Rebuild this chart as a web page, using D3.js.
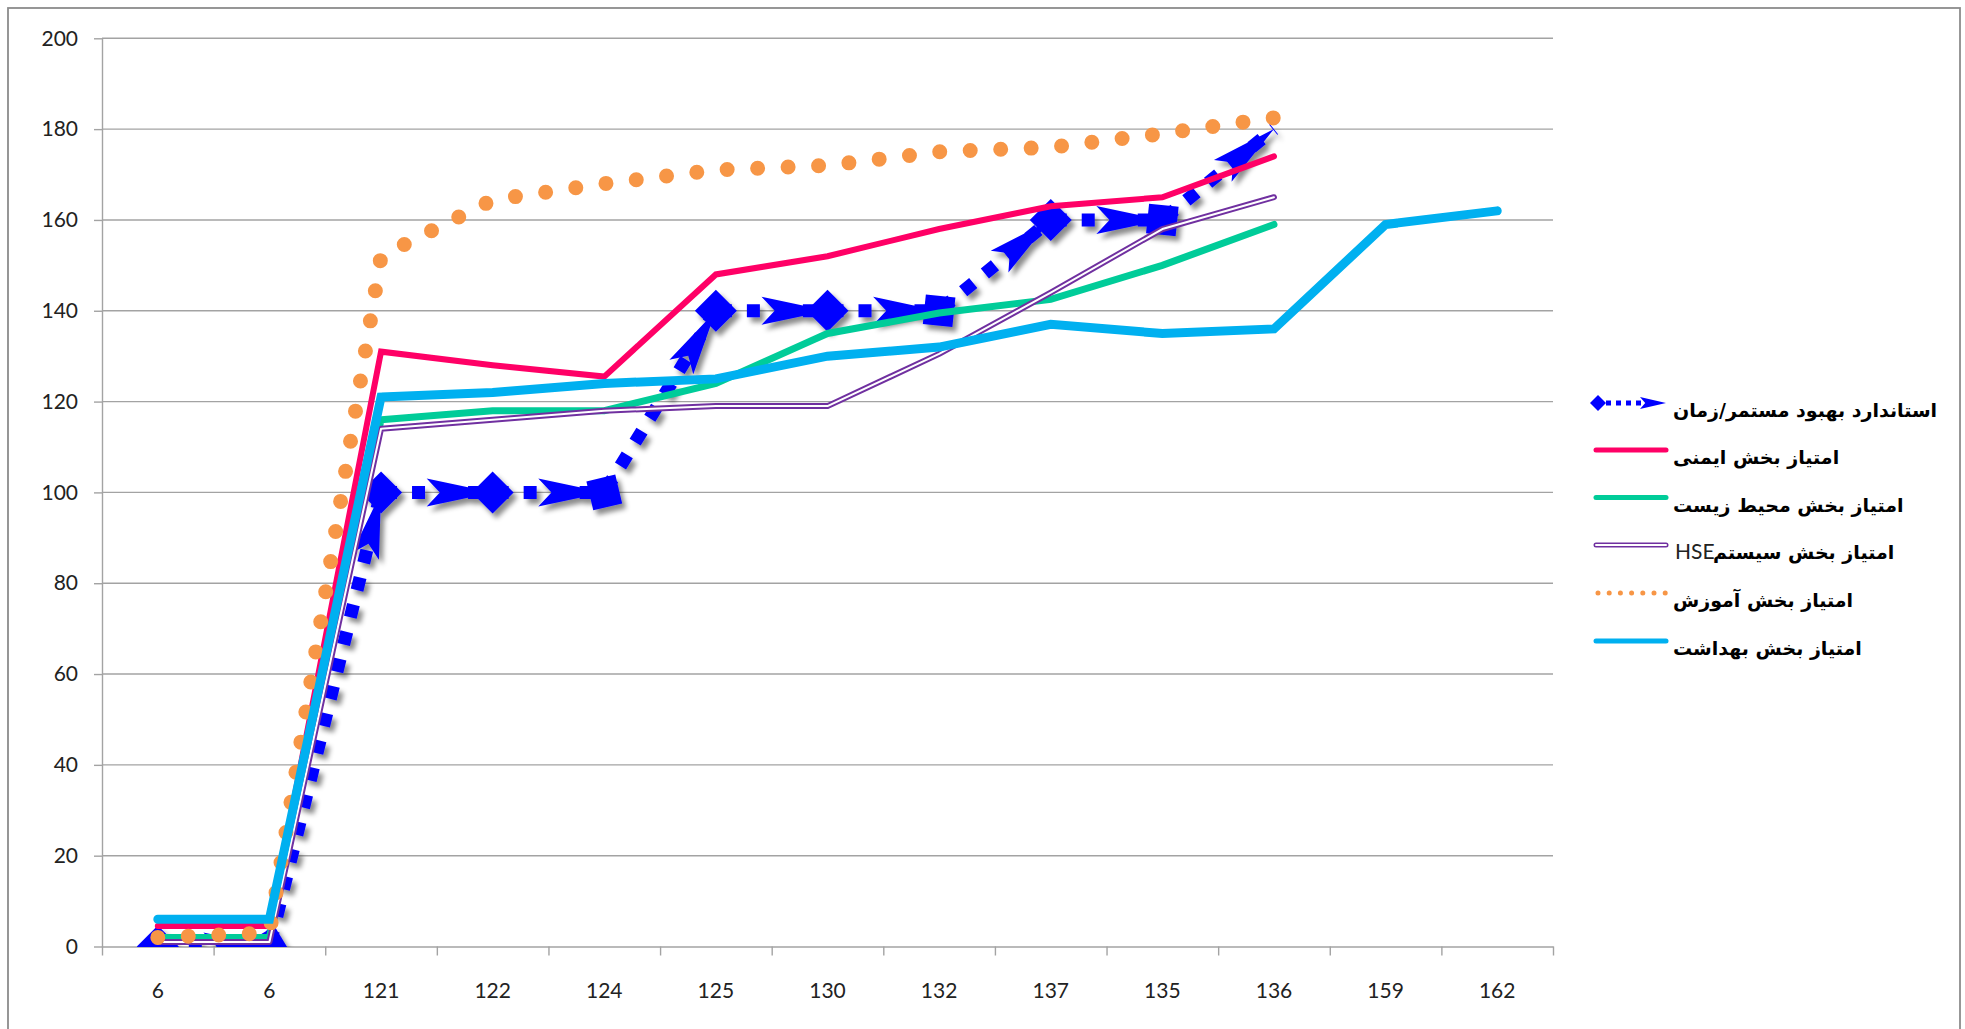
<!DOCTYPE html>
<html>
<head>
<meta charset="utf-8">
<script src="https://cdn.jsdelivr.net/npm/d3@7"></script>
<style>
  html, body { margin: 0; padding: 0; background: #fff; overflow: hidden; }
</style>
</head>
<body>
<svg id="chart" width="1965" height="1029"></svg>
<script>
// Category labels along the bottom axis
const categories = ["6", "6", "121", "122", "124", "125", "130", "132", "137", "135", "136", "159", "162"];
// Value axis ticks
const yTicks = [0, 20, 40, 60, 80, 100, 120, 140, 160, 180, 200];

// Series names (legend)
const nameStandard = "استاندارد بهبود مستمر/زمان";
const nameSafety = "امتیاز بخش ایمنی";
const nameEnvironment = "امتیاز بخش محیط زیست";
const nameSystem = "امتیاز بخش سیستم";
const nameSystemSuffix = "HSE";
const nameTraining = "امتیاز بخش آموزش";
const nameHealth = "امتیاز بخش بهداشت";

// Series values
const standardValues = [0, 0, 100, 100, 100, 140, 140, 140, 160, 160, 180];
const safetyValues = [4.5, 4.5, 131, 128, 125.5, 148, 152, 158, 163, 165, 174];
const environmentValues = [2, 2, 116, 118, 118, 124, 135, 139.5, 142.5, 150, 159];
const systemValues = [1, 1, 114, 116, 118, 119, 119, 130.5, 144, 158, 165];
const trainingValues = [2, 3, 152, 164.4, 168, 171, 172, 175, 176, 179, 182.5];
const healthValues = [6, 6, 121, 122, 124, 125, 130, 132, 137, 135, 136, 159, 162];

const svg = d3.select("#chart");
const plot = { left: 102, right: 1553, top: 38.3, bottom: 946.5 };
const tickFont = "Lato, 'Open Sans', sans-serif";
const gridColor = "#a3a3a3";

const x = d3.scaleBand().domain(d3.range(categories.length)).range([plot.left, plot.right]).padding(0);
const cx = i => x(i) + x.bandwidth() / 2;
const xEdges = d3.scaleLinear().domain([0, categories.length]).range([plot.left, plot.right]);
const y = d3.scaleLinear().domain([0, 200]).range([plot.bottom, plot.top]);

// Outer chart border
svg.append("rect")
  .attr("x", 8).attr("y", 8).attr("width", 1952).attr("height", 1040)
  .attr("fill", "none").attr("stroke", "#8c8c8c").attr("stroke-width", 1.8);

const defs = svg.append("defs");
defs.append("clipPath").attr("id", "plotClip")
  .append("rect")
  .attr("x", plot.left).attr("y", plot.top)
  .attr("width", plot.right - plot.left).attr("height", plot.bottom - plot.top);
defs.append("filter").attr("id", "shadow")
  .attr("x", "-20%").attr("y", "-20%").attr("width", "140%").attr("height", "140%")
  .append("feDropShadow")
  .attr("dx", 4).attr("dy", 5).attr("stdDeviation", 2.6)
  .attr("flood-color", "#000").attr("flood-opacity", 0.45);

// Horizontal gridlines
svg.append("g").selectAll("line").data(yTicks.filter(t => t > 0)).join("line")
  .attr("x1", plot.left).attr("x2", plot.right)
  .attr("y1", d => y(d)).attr("y2", d => y(d))
  .attr("stroke", gridColor).attr("stroke-width", 1.4);

// Value axis
const yAxis = svg.append("g")
  .attr("transform", `translate(${plot.left},0)`)
  .call(d3.axisLeft(y).tickValues(yTicks).tickSize(8).tickSizeOuter(0).tickPadding(16));
yAxis.selectAll("path, line").attr("stroke", gridColor).attr("stroke-width", 1.4);
yAxis.selectAll("text").attr("font-family", tickFont).attr("font-size", 21).attr("fill", "#222");

// Category axis: tick marks on band edges, labels at band centres
const xTicks = svg.append("g")
  .attr("transform", `translate(0,${plot.bottom})`)
  .call(d3.axisBottom(xEdges).tickValues(d3.range(categories.length + 1)).tickSize(9).tickSizeOuter(0).tickFormat(""));
xTicks.selectAll("path, line").attr("stroke", gridColor).attr("stroke-width", 1.4);
const xLabels = svg.append("g")
  .attr("transform", `translate(0,${plot.bottom})`)
  .call(d3.axisBottom(x).tickFormat(i => categories[i]).tickSize(0).tickPadding(36.6));
xLabels.select(".domain").remove();
xLabels.selectAll("text").attr("font-family", tickFont).attr("font-size", 21).attr("fill", "#222");

const series = svg.append("g").attr("clip-path", "url(#plotClip)");
const lineGen = d3.line().x((d, i) => cx(i)).y(d => y(d));

// Stealth arrowhead (tip at origin, pointing along +x) and diamond arrow shapes
function stealth(len, half) {
  return `M0,0 L${-len},${-half} L${-len * 0.8},0 L${-len},${half} Z`;
}
function diamond(r) {
  return `M${r},0 L0,${r} L${-r},0 L0,${-r} Z`;
}

// Improvement standard: square-dot line, each segment starts with a diamond and ends with a stealth arrow
const stdGroup = series.append("g").attr("filter", "url(#shadow)");
const stdPts = standardValues.map((v, i) => [cx(i), y(v)]);
d3.pairs(stdPts).forEach(([a, b]) => {
  stdGroup.append("path")
    .attr("d", d3.line()([a, b]))
    .attr("fill", "none").attr("stroke", "#0000ff").attr("stroke-width", 13)
    .attr("stroke-dasharray", "13 15").attr("stroke-dashoffset", -3);
});
d3.pairs(stdPts).forEach(([a, b]) => {
  const ang = Math.atan2(b[1] - a[1], b[0] - a[0]) * 180 / Math.PI;
  stdGroup.append("path")
    .attr("d", diamond(21))
    .attr("transform", `translate(${a[0]},${a[1]}) rotate(${ang})`)
    .attr("fill", "#0000ff");
  stdGroup.append("path")
    .attr("d", stealth(66, 14))
    .attr("transform", `translate(${b[0]},${b[1]}) rotate(${ang})`)
    .attr("fill", "#0000ff");
});

// Safety
series.append("path").attr("d", lineGen(safetyValues))
  .attr("fill", "none").attr("stroke", "#ff0066").attr("stroke-width", 6)
  .attr("stroke-linecap", "round").attr("stroke-linejoin", "miter");

// Environment
series.append("path").attr("d", lineGen(environmentValues))
  .attr("fill", "none").attr("stroke", "#00cc99").attr("stroke-width", 7)
  .attr("stroke-linecap", "round").attr("stroke-linejoin", "miter");

// HSE system: double line
series.append("path").attr("d", lineGen(systemValues))
  .attr("fill", "none").attr("stroke", "#7030a0").attr("stroke-width", 6)
  .attr("stroke-linecap", "round").attr("stroke-linejoin", "round");
series.append("path").attr("d", lineGen(systemValues))
  .attr("fill", "none").attr("stroke", "#fff").attr("stroke-width", 2)
  .attr("stroke-linecap", "round").attr("stroke-linejoin", "round");

// Training: round dots
series.append("path").attr("d", lineGen(trainingValues))
  .attr("fill", "none").attr("stroke", "#f79646").attr("stroke-width", 15)
  .attr("stroke-linecap", "round").attr("stroke-dasharray", "0 30.5");

// Health
series.append("path").attr("d", lineGen(healthValues))
  .attr("fill", "none").attr("stroke", "#00b0f0").attr("stroke-width", 9)
  .attr("stroke-linecap", "round").attr("stroke-linejoin", "miter");

// Legend
const legend = svg.append("g");
const lx0 = 1596, lx1 = 1666, textX = 1673, rowY = [403, 450, 497.5, 545, 593, 641];
const arabicFont = "'DejaVu Sans', sans-serif";
function legendText(row, str, xPos) {
  legend.append("text")
    .attr("x", xPos).attr("y", rowY[row] + 14)
    .attr("direction", "rtl").attr("text-anchor", "end")
    .attr("font-family", arabicFont).attr("font-weight", "bold").attr("font-size", 19)
    .attr("fill", "#000").text(str);
}
// row 0 sample
legend.append("path").attr("d", d3.line()([[1606, rowY[0]], [1648, rowY[0]]]))
  .attr("stroke", "#0000ff").attr("stroke-width", 5).attr("stroke-dasharray", "5 5");
legend.append("path").attr("d", diamond(8)).attr("transform", `translate(1598,${rowY[0]})`).attr("fill", "#0000ff");
legend.append("path").attr("d", stealth(26, 6)).attr("transform", `translate(${lx1},${rowY[0]})`).attr("fill", "#0000ff");
legendText(0, nameStandard, textX);
// row 1
legend.append("line").attr("x1", lx0).attr("x2", lx1).attr("y1", rowY[1]).attr("y2", rowY[1])
  .attr("stroke", "#ff0066").attr("stroke-width", 5).attr("stroke-linecap", "round");
legendText(1, nameSafety, textX);
// row 2
legend.append("line").attr("x1", lx0).attr("x2", lx1).attr("y1", rowY[2]).attr("y2", rowY[2])
  .attr("stroke", "#00cc99").attr("stroke-width", 5).attr("stroke-linecap", "round");
legendText(2, nameEnvironment, textX);
// row 3
legend.append("line").attr("x1", lx0).attr("x2", lx1).attr("y1", rowY[3]).attr("y2", rowY[3])
  .attr("stroke", "#7030a0").attr("stroke-width", 5).attr("stroke-linecap", "round");
legend.append("line").attr("x1", lx0).attr("x2", lx1).attr("y1", rowY[3]).attr("y2", rowY[3])
  .attr("stroke", "#fff").attr("stroke-width", 2).attr("stroke-linecap", "round");
legend.append("text").attr("x", textX + 2).attr("y", rowY[3] + 14)
  .attr("font-family", tickFont).attr("font-size", 21).attr("fill", "#222").text(nameSystemSuffix);
legendText(3, nameSystem, textX + 40);
// row 4
legend.append("line").attr("x1", lx0 + 2).attr("x2", lx1).attr("y1", rowY[4]).attr("y2", rowY[4])
  .attr("stroke", "#f79646").attr("stroke-width", 5).attr("stroke-linecap", "round").attr("stroke-dasharray", "0 11.2");
legendText(4, nameTraining, textX);
// row 5
legend.append("line").attr("x1", lx0).attr("x2", lx1).attr("y1", rowY[5]).attr("y2", rowY[5])
  .attr("stroke", "#00b0f0").attr("stroke-width", 5).attr("stroke-linecap", "round");
legendText(5, nameHealth, textX);
</script>
</body>
</html>
